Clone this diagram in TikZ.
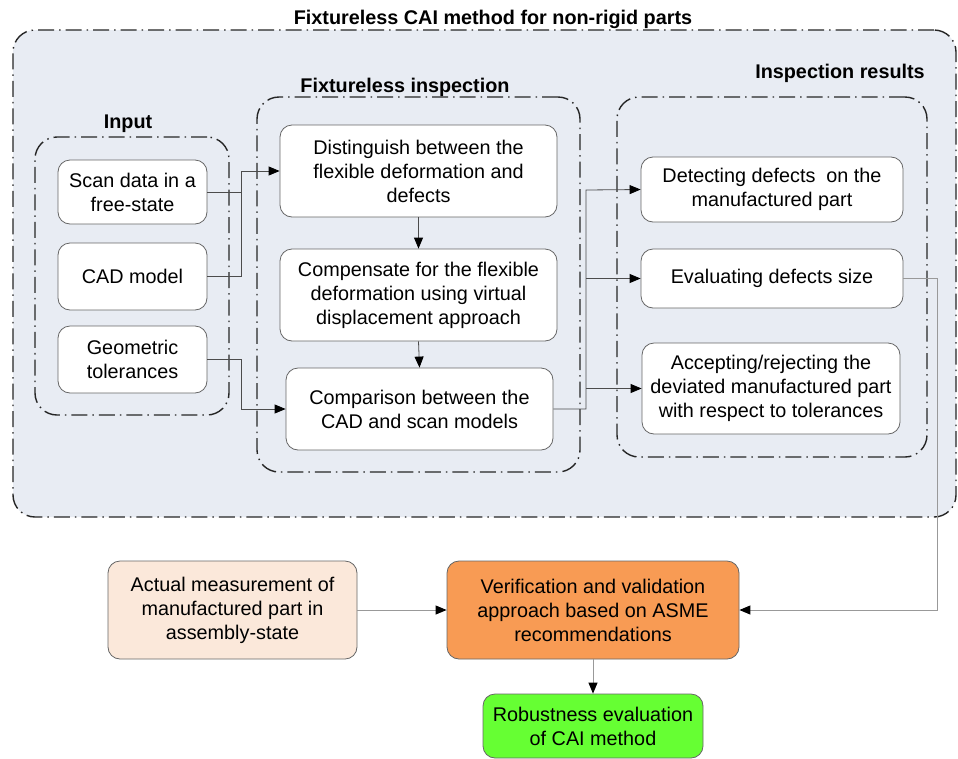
\documentclass[tikz,border=0pt]{standalone}
\usepackage{fontspec}
\setmainfont{Liberation Sans}
\usetikzlibrary{arrows.meta}
\definecolor{bgblue}{HTML}{E8ECF3}
\definecolor{peach}{HTML}{FBE8DA}
\definecolor{orng}{HTML}{F89B54}
\definecolor{grn}{HTML}{66FF33}
\begin{document}
\begin{tikzpicture}[x=1pt,y=-1pt,
  box/.style={draw=black!60, line width=0.8pt, rounded corners=12pt, fill=white, align=center, inner sep=0pt, font=\fontsize{19.8}{24}\selectfont},
  grp/.style={draw=black!85, line width=1.4pt, dash pattern=on 16pt off 5pt on 1.5pt off 5pt, rounded corners=22pt, inner sep=0pt},
  conn/.style={draw=black!70, line width=0.8pt, -{Triangle[length=11pt,width=9pt,color=black]}},
  connb/.style={draw=black!40, line width=1pt, -{Triangle[length=11pt,width=9pt,color=black]}},
  ttl/.style={font=\bfseries\fontsize{19.8}{22}\selectfont, inner sep=0pt}]
\useasboundingbox (0,0) rectangle (958,758);
\fill[white] (0,0) rectangle (958,758);
% outer group
\node[grp, fill=bgblue, minimum width=943, minimum height=487] (outer) at (484.5,273.5) {};
\node[ttl] (tmain) at (493,19) {Fixtureless CAI method for non-rigid parts};
% sub groups
\node[grp, minimum width=194, minimum height=278] (ginput) at (132,276) {};
\node[ttl] (tinput) at (128,123.5) {Input};
\node[grp, minimum width=323, minimum height=375] (ginsp) at (418.5,284.5) {};
\node[ttl] (tinsp) at (405,87.5) {Fixtureless inspection};
\node[grp, minimum width=310, minimum height=360] (gres) at (772,277) {};
\node[ttl] (tres) at (840,73) {Inspection results};
% input nodes
\node[box, minimum width=149, minimum height=64] (scan) at (132.5,192) {Scan data in a\\free-state};
\node[box, minimum width=149, minimum height=67] (cad) at (132.5,276.5) {CAD model};
\node[box, minimum width=149, minimum height=67] (geo) at (132.5,359.5) {Geometric\\tolerances};
% inspection nodes
\node[box, minimum width=277, minimum height=92] (dist) at (418.5,171) {Distinguish between the\\flexible deformation and\\defects};
\node[box, minimum width=277, minimum height=92] (comp) at (418.5,295) {Compensate for the flexible\\deformation using virtual\\displacement approach};
\node[box, minimum width=267, minimum height=82] (cmp) at (419.5,409) {Comparison between the\\CAD and scan models};
% results nodes
\node[box, minimum width=262, minimum height=65] (det) at (772,189.5) {Detecting defects\ \ on the\\manufactured part};
\node[box, minimum width=262, minimum height=59] (eval) at (772,278.5) {Evaluating defects size};
\node[box, minimum width=258, minimum height=91] (acc) at (771,388.5) {Accepting/rejecting the\\deviated manufactured part\\with respect to tolerances};
% bottom nodes
\node[box, fill=peach, minimum width=249, minimum height=98] (act) at (232.5,610) {Actual measurement of\\manufactured part in\\assembly-state};
\node[box, fill=orng, minimum width=292, minimum height=98] (ver) at (593,610) {Verification and validation\\approach based on ASME\\recommendations};
\node[box, fill=grn, minimum width=220, minimum height=64] (rob) at (593,726) {Robustness evaluation\\of CAI method};
% connectors
\coordinate (j1) at (241,171);
\coordinate (j2) at (241,409);
\coordinate (j3) at (586,190);
\coordinate (j6) at (937,610);
\draw[conn] (scan.east) -| (j1) -- (dist.west);
\draw[draw=black!70, line width=0.8pt] (cad.east) -| (j1);
\draw[conn] (geo.east) -| (j2) -- (cmp.west);
\draw[conn] (dist.south) -- (comp.north);
\draw[conn] (comp.south) -- (cmp.north);
\draw[conn] (cmp.east) -| (j3) -- (det.west);
\draw[conn] (j3 |- eval.west) -- (eval.west);
\draw[conn] (j3 |- acc.west) -- (acc.west);
\draw[connb] (eval.east) -| (j6) -- (ver.east);
\draw[connb] (act.east) -- (ver.west);
\draw[connb] (ver.south) -- (rob.north);
\end{tikzpicture}
\end{document}
